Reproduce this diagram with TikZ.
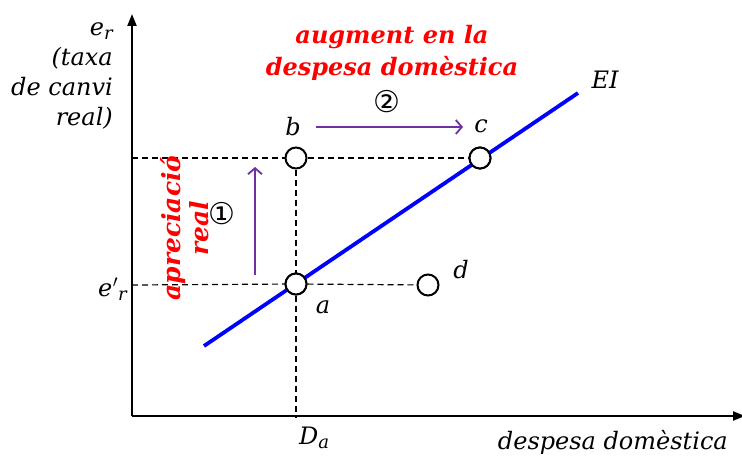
\documentclass[tikz,border=0pt]{standalone}
\usepackage{fontspec}
\setmainfont{DejaVu Serif}
\newfontfamily\symfont{DejaVu Sans}
\usetikzlibrary{arrows.meta}
\definecolor{purp}{RGB}{112,48,160}
\newcommand{\lsub}[1]{\raisebox{-0.35ex}{\fontsize{18}{20}\selectfont #1}}
\begin{document}
\begin{tikzpicture}[x=1pt,y=-1pt,
  lbl/.style={font=\fontsize{24}{28}\selectfont\itshape, inner sep=0pt},
  redlbl/.style={font=\fontsize{24}{32}\selectfont\bfseries\itshape, text=red, inner sep=0pt, align=center},
  pt/.style={circle, draw=black, line width=2pt, fill=white, minimum size=21pt, inner sep=0pt},
  guide/.style={draw=black, line width=1.2pt, dash pattern=on 6pt off 4pt},
  axis/.style={draw=black, line width=2.2pt, -{Triangle[length=12pt,width=9pt]}},
  move/.style={draw=purp, line width=2.2pt, -{Straight Barb[length=6pt,width=14pt,line width=1.8pt]}},
  num/.style={font=\fontsize{30}{32}\selectfont\symfont, inner sep=0pt}]
\useasboundingbox (0,0) rectangle (742,460);
% axes
\coordinate (O) at (132,416);
\coordinate (ytop) at (132,14);
\coordinate (xend) at (745,416);
\draw[axis] (O) -- (ytop);
\draw[axis] (O) -- (xend);
% points
\node[pt] (a) at (296,284) {};
\node[pt] (b) at (296,158) {};
\node[pt] (c) at (480,158) {};
\node[pt] (d) at (428,285) {};
\coordinate (ya) at (132,285);
\coordinate (yb) at (132,158);
\coordinate (xa) at (296,418);
% guides
\draw[guide] (yb) -- (b) -- (c);
\draw[guide] (ya) -- (a) -- (d);
\draw[guide] (b) -- (a) -- (xa);
% EI line
\coordinate (ei0) at (204,346);
\coordinate (ei1) at (578,93);
\draw[blue, line width=3.8pt] (ei0) -- (ei1);
\node[pt] at (a) {};
\node[pt] at (c) {};
% movement arrows
\coordinate (v0) at (255,275);
\coordinate (v1) at (255,167);
\coordinate (h0) at (316,127);
\coordinate (h1) at (463,127);
\draw[move] (v0) -- (v1);
\draw[move] (h0) -- (h1);
\node[num] (n1) at (222,214) {①};
\node[num] (n2) at (387,102) {②};
% labels
\node[lbl] (lb) at (293,127) {b};
\node[lbl] (lc) at (481,126) {c};
\node[lbl] (la) at (323,307) {a};
\node[lbl] (ld) at (461,270) {d};
\node[lbl] (lEI) at (605,80) {EI};
\node[lbl] (lDa) at (314,438) {D\lsub{a}};
\node[lbl, anchor=east] (lep) at (127,289) {e\kern0.5pt$'$\lsub{r}};
\node[lbl, anchor=east] (lxax) at (728,442) {despesa domèstica};
\node[lbl, anchor=east, align=right, font=\fontsize{24}{30}\selectfont\itshape] (lyax) at (113,76) {e\lsub{r}\\(taxa\\de canvi\\real)};
\node[redlbl] (r1) at (392,53) {augment en la\\despesa domèstica};
\node[redlbl, rotate=90, font=\fontsize{25}{28}\selectfont\bfseries\itshape] (r2) at (185,228) {apreciació\\real};
\end{tikzpicture}
\end{document}
